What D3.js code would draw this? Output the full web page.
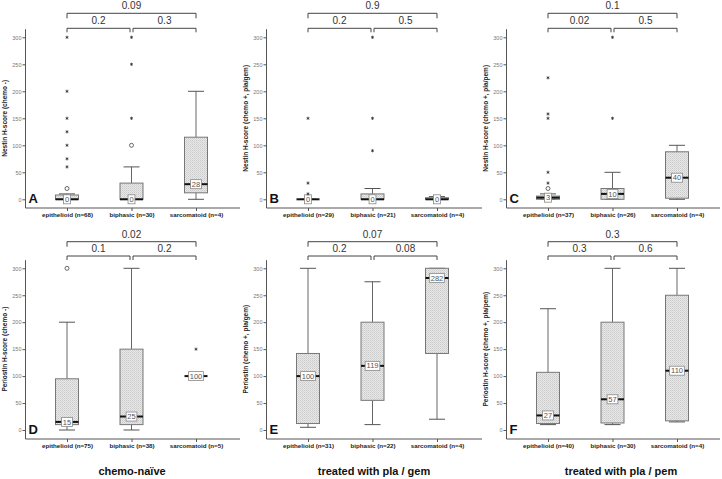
<!DOCTYPE html>
<html><head><meta charset="utf-8">
<script src="https://cdn.jsdelivr.net/npm/d3@7/dist/d3.min.js"></script>
<style>body{margin:0;background:#fff}svg{display:block}text{font-family:"Liberation Sans",Arial,sans-serif}</style>
</head><body>
<svg id="c" width="722" height="479"></svg>
<script>
const categories = ["epithelioid", "biphasic", "sarcomatoid"];
const yTicks = [0, 50, 100, 150, 200, 250, 300];
const panelLetters = ["A", "B", "C", "D", "E", "F"];
const yTitles = ["Nestin H-score (chemo -)", "Nestin H-score (chemo +, pla/gem)", "Nestin H-score (chemo +, pla/pem)",
  "Periostin H-score (chemo -)", "Periostin (chemo +, pla/gem)", "Periostin H-score (chemo +, pla/pem)"];
const groupTitles = ["chemo-naïve", "treated with pla / gem", "treated with pla / pem"];

// n per category
const nA = [68, 30, 4], nB = [29, 21, 4], nC = [37, 26, 4];
const nD = [75, 38, 5], nE = [31, 22, 4], nF = [40, 30, 4];

// box stats per category: [whiskerLow, q1, median, q3, whiskerHigh]
const boxA = [[0, 0, 0, 8, 10], [0, 0, 0, 30, 60], [0, 12, 28, 115, 200]];
const boxB = [[0, 0, 0, 0, 0], [0, 0, 0, 10, 20], [0, 0, 0, 3, 5]];
const boxC = [[0, 0, 3, 6, 10], [0, 0, 10, 20, 50], [0, 2, 40, 88, 100]];
const boxD = [[0, 10, 15, 95, 200], [0, 10, 25, 150, 300], [100, 100, 100, 100, 100]];
const boxE = [[5, 12, 100, 142, 300], [10, 55, 119, 200, 275], [20, 142, 282, 300, 300]];
const boxF = [[10, 12, 27, 107, 225], [10, 13, 57, 200, 300], [15, 17, 110, 250, 300]];

// outliers: [categoryIndex, value]
const circlesA = [[0, 20], [1, 100]];
const starsA = [[0, 60], [0, 75], [0, 100], [0, 125], [0, 150], [0, 200], [0, 300], [1, 150], [1, 250], [1, 300]];
const circlesB = [];
const starsB = [[0, 10], [0, 30], [0, 150], [1, 90], [1, 150], [1, 300]];
const circlesC = [[0, 20]];
const starsC = [[0, 30], [0, 50], [0, 150], [0, 158], [0, 225], [1, 150], [1, 300]];
const circlesD = [[0, 300]];
const starsD = [[2, 150]];
const circlesE = [], starsE = [];
const circlesF = [], starsF = [];

// p-values: [epi vs bi, bi vs sarc, epi vs sarc]
const pA = ["0.2", "0.3", "0.09"], pB = ["0.2", "0.5", "0.9"], pC = ["0.02", "0.5", "0.1"];
const pD = ["0.1", "0.2", "0.02"], pE = ["0.2", "0.08", "0.07"], pF = ["0.3", "0.6", "0.3"];

const ns = [nA, nB, nC, nD, nE, nF];
const boxes = [boxA, boxB, boxC, boxD, boxE, boxF];
const circles = [circlesA, circlesB, circlesC, circlesD, circlesE, circlesF];
const stars = [starsA, starsB, starsC, starsD, starsE, starsF];
const pvals = [pA, pB, pC, pD, pE, pF];

// layout
const rows = [
  {top: 37.3, zero: 199.3, axisY: 208, labY: 219.5, brTop: 13.3, brLow: 28.3},
  {top: 268.3, zero: 430, axisY: 439, labY: 450.5, brTop: 241.7, brLow: 256}
];
const cols = [{ax: 25.5, right: 240}, {ax: 266.5, right: 482}, {ax: 506.5, right: 720}];

const svg = d3.select("#c");
const defs = svg.append("defs");
const pat = defs.append("pattern").attr("id", "dots").attr("width", 2).attr("height", 2).attr("patternUnits", "userSpaceOnUse");
pat.append("rect").attr("width", 2).attr("height", 2).attr("fill", "#e8e8e8");
pat.append("rect").attr("width", 1).attr("height", 1).attr("fill", "#cacaca");
pat.append("rect").attr("x", 1).attr("y", 1).attr("width", 1).attr("height", 1).attr("fill", "#d6d6d6");

const boxW = 23, capW = 16;

for (let p = 0; p < 6; p++) {
  const r = rows[Math.floor(p / 3)], c = cols[p % 3];
  const g = svg.append("g");
  const y = d3.scaleLinear().domain([0, 300]).range([r.zero, r.top]);
  const x = d3.scalePoint().domain(categories).range([c.ax + 41.5, c.ax + 170.5]);

  // y axis line
  g.append("line").attr("x1", c.ax).attr("x2", c.ax).attr("y1", y(315)).attr("y2", r.axisY)
    .attr("stroke", "#555").attr("stroke-width", 1);
  const yAxis = d3.axisLeft(y).tickValues(yTicks).tickSize(3).tickSizeOuter(0).tickPadding(1);
  const ya = g.append("g").attr("transform", `translate(${c.ax},0)`).call(yAxis);
  ya.select(".domain").remove();
  ya.selectAll("line").attr("stroke", "#555");
  ya.selectAll("text").attr("font-size", 5.5).attr("fill", "#777").attr("font-family", "Liberation Sans, Arial, sans-serif");

  // x axis
  g.append("line").attr("x1", c.ax).attr("x2", c.right).attr("y1", r.axisY).attr("y2", r.axisY)
    .attr("stroke", "#555").attr("stroke-width", 1);
  const xAxis = d3.axisBottom(x).tickSize(3).tickSizeOuter(0).tickPadding(2)
    .tickFormat((d, i) => `${d} (n=${ns[p][i]})`);
  const xa = g.append("g").attr("transform", `translate(0,${r.axisY})`).call(xAxis);
  xa.select(".domain").remove();
  xa.selectAll("line").attr("stroke", "#555");
  xa.selectAll("text").attr("font-size", 6.2).attr("font-weight", "bold").attr("fill", "#222")
    .attr("font-family", "Liberation Sans, Arial, sans-serif");

  // y title
  g.append("text").attr("transform", `translate(${c.ax - 19},${(r.zero + r.top) / 2}) rotate(-90)`)
    .attr("text-anchor", "middle").attr("font-size", 6.5).attr("font-weight", "bold").attr("fill", "#222")
    .text(yTitles[p]);

  // panel letter
  g.append("text").attr("x", c.ax + 3).attr("y", r.zero + 4).attr("font-size", 13).attr("font-weight", "bold")
    .attr("fill", "#111").text(panelLetters[p]);

  // boxes
  boxes[p].forEach((b, i) => {
    const cx = x(categories[i]);
    const [lo, q1, med, q3, hi] = b;
    const bg = g.append("g");
    bg.append("line").attr("x1", cx).attr("x2", cx).attr("y1", y(q3)).attr("y2", y(hi)).attr("stroke", "#666");
    bg.append("line").attr("x1", cx).attr("x2", cx).attr("y1", y(q1)).attr("y2", y(lo)).attr("stroke", "#666");
    bg.append("line").attr("x1", cx - capW / 2).attr("x2", cx + capW / 2).attr("y1", y(hi)).attr("y2", y(hi)).attr("stroke", "#555");
    bg.append("line").attr("x1", cx - capW / 2).attr("x2", cx + capW / 2).attr("y1", y(lo)).attr("y2", y(lo)).attr("stroke", "#555");
    if (q3 > q1) {
      bg.append("rect").attr("x", cx - boxW / 2).attr("width", boxW).attr("y", y(q3)).attr("height", y(q1) - y(q3))
        .attr("fill", "url(#dots)").attr("stroke", "#777").attr("stroke-width", 1);
    }
    bg.append("line").attr("x1", cx - boxW / 2).attr("x2", cx + boxW / 2).attr("y1", y(med)).attr("y2", y(med))
      .attr("stroke", "#111").attr("stroke-width", 2);
    const lab = String(med);
    const tw = lab.length * 3.9 + 3;
    bg.append("rect").attr("x", cx - tw / 2).attr("y", y(med) - 4.5).attr("width", tw).attr("height", 9)
      .attr("fill", "#fff").attr("stroke", "#888").attr("stroke-width", 0.8);
    bg.append("text").attr("x", cx).attr("y", y(med) + 2.6).attr("text-anchor", "middle").attr("font-size", 7.5)
      .attr("fill", "#555").text(lab);
  });

  // outliers
  circles[p].forEach(([ci, v]) => {
    g.append("circle").attr("cx", x(categories[ci])).attr("cy", y(v)).attr("r", 2)
      .attr("fill", "#fff").attr("stroke", "#444").attr("stroke-width", 0.8);
  });
  const star = d3.symbol().type(d3.symbolAsterisk).size(7);
  stars[p].forEach(([ci, v]) => {
    g.append("path").attr("d", star).attr("transform", `translate(${x(categories[ci])},${y(v)})`)
      .attr("fill", "none").attr("stroke", "#333").attr("stroke-width", 0.8);
  });

  // significance brackets
  const x0 = x(categories[0]), x1 = x(categories[1]), x2 = x(categories[2]);
  const br = (xa_, xb_, yy, drop, txt) => {
    g.append("path").attr("d", `M${xa_},${yy + drop}V${yy}H${xb_}V${yy + drop}`)
      .attr("fill", "none").attr("stroke", "#444").attr("stroke-width", 1);
    g.append("text").attr("x", (xa_ + xb_) / 2).attr("y", yy - 4).attr("text-anchor", "middle")
      .attr("font-size", 10).attr("fill", "#333").text(txt);
  };
  br(x0, x1 - 1.5, r.brLow, 4, pvals[p][0]);
  br(x1 + 1.5, x2, r.brLow, 4, pvals[p][1]);
  br(x0, x2, r.brTop, 5, pvals[p][2]);
}

// group titles
const titleX = [132, 374, 621];
groupTitles.forEach((t, i) => {
  svg.append("text").attr("x", titleX[i]).attr("y", 474.5).attr("text-anchor", "middle")
    .attr("font-size", 11).attr("font-weight", "bold").attr("fill", "#111").text(t);
});
</script>
</body></html>
